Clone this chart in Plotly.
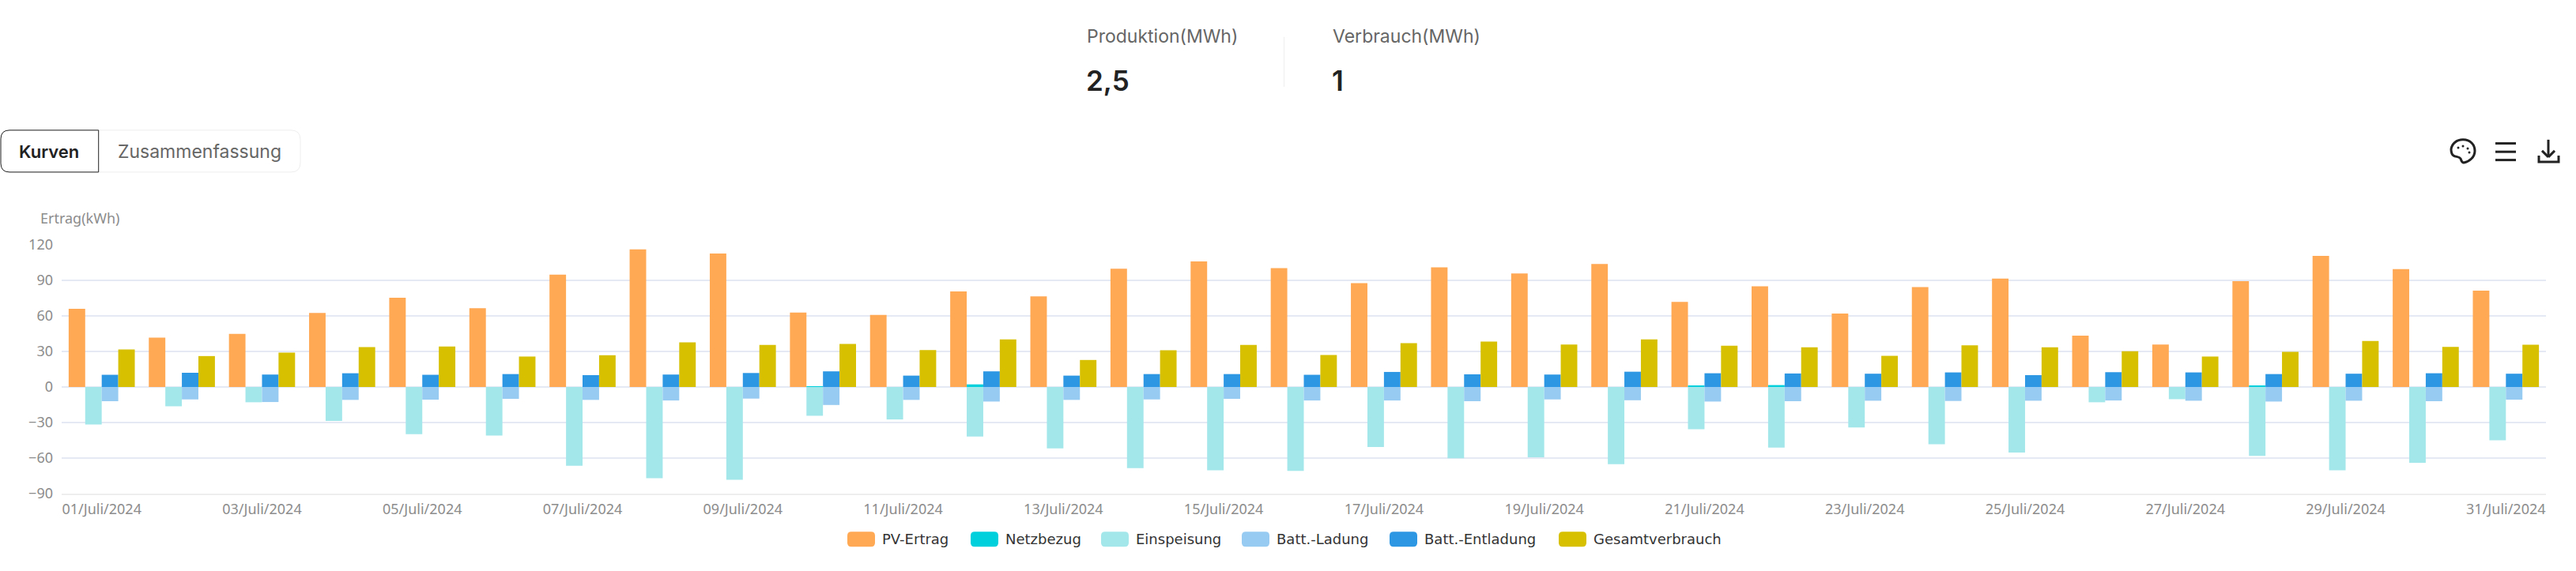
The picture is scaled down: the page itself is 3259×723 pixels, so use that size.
import plotly.graph_objects as go

# Tage
days = [f"{d:02d}/Juli/2024" for d in range(1, 32)]
tick_labels = days[::2]

# Werte (kWh)
pv_ertrag = [66, 41.7, 44.8, 62.5, 75.4, 66.5, 94.8, 116.2, 112.6, 62.9, 60.9, 80.7, 76.5, 99.9, 106, 100.4,
             87.7, 101, 95.9, 103.9, 71.8, 85, 62, 84.3, 91.5, 43.3, 35.9, 89.4, 110.6, 99.5, 81.4]
netzbezug = [0, 0, 0, 0, 0, 0, 0, 0, 0, 0.5, 0, 2.2, 0, 0, 0, 0,
             0, 0, 0, 0, 0.7, 1.6, 0, 0, 0, 0, 0, 0.7, 0, 0, 0]
einspeisung = [-31.7, -16.3, -12.9, -28.6, -39.9, -41, -66.5, -77, -78.3, -24.3, -27.4, -41.9, -51.8, -68.5, -70.3, -70.9,
               -50.6, -60.2, -59.3, -65.1, -35.7, -51.1, -34.1, -48.4, -55.3, -12.9, -10.3, -58.2, -70.3, -64, -45]
ladung = [-12, -10.5, -12.7, -10.9, -10.7, -10, -10.9, -11.4, -9.8, -15.2, -10.9, -12.3, -10.9, -10.5, -10, -11.4,
          -11.4, -12, -10.5, -11.2, -12.3, -12, -11.6, -11.8, -11.6, -11.4, -11.6, -12.3, -11.6, -12, -10.7]
entladung = [10.3, 12, 10.5, 11.6, 10.3, 10.9, 10, 10.5, 11.8, 13.2, 9.6, 13.2, 9.6, 10.9, 10.9, 10.3,
             12.7, 10.7, 10.5, 12.9, 11.6, 11.4, 11.2, 12.3, 10, 12.5, 12.3, 10.9, 11.2, 11.6, 11.2]
gesamt = [31.7, 26.1, 29, 33.7, 34.1, 25.7, 26.8, 37.7, 35.5, 36.4, 31.2, 40.2, 22.8, 31, 35.5, 27,
          37, 38.4, 35.9, 40.2, 34.8, 33.5, 26.3, 35.2, 33.5, 30.1, 25.7, 29.7, 38.8, 33.9, 35.7]

colors = ["#FFA955", "#00CFDC", "#A3E7EB", "#97CBF1", "#2E97E3", "#D6C000"]
names = ["PV-Ertrag", "Netzbezug", "Einspeisung", "Batt.-Ladung", "Batt.-Entladung", "Gesamtverbrauch"]
series = [pv_ertrag, netzbezug, einspeisung, ladung, entladung, gesamt]
groups = ["a", "b", "b", "c", "c", "d"]

W, H = 3259, 723
L, R, T, B = 78, 3221, 310, 624.7


def px(x):
    return (x - L) / (R - L)


def py(y):
    return (B - y) / (B - T)


def text(x, y, s, size, color, anchor="left", font="Inter", weight=400):
    fig.add_annotation(xref="paper", yref="paper", x=px(x), y=py(y), text=s, showarrow=False,
                       xanchor=anchor, yanchor="middle",
                       font=dict(size=size, color=color, family=font, weight=weight))


def shape_line(x0, y0, x1, y1, color="#222222", width=3):
    fig.add_shape(type="line", xref="paper", yref="paper", x0=px(x0), y0=py(y0), x1=px(x1), y1=py(y1),
                  line=dict(color=color, width=width))


def shape_path(cmds, line=None, width=1, fill="rgba(0,0,0,0)"):
    # cmds: Liste aus (Befehl, x, y, x, y, ...) in Pixeln
    parts = []
    for c in cmds:
        pts = c[1:]
        coords = " ".join(f"{px(pts[i])},{py(pts[i + 1])}" for i in range(0, len(pts), 2))
        parts.append(f"{c[0]}{coords}")
    fig.add_shape(type="path", xref="paper", yref="paper", path=" ".join(parts) + (" Z" if fill != "rgba(0,0,0,0)" else ""),
                  fillcolor=fill, line=dict(color=line if line else "rgba(0,0,0,0)", width=width))


def round_rect(x0, y0, x1, y1, r, line=None, width=1, fill="rgba(0,0,0,0)"):
    shape_path([("M", x0 + r, y0), ("L", x1 - r, y0), ("Q", x1, y0, x1, y0 + r), ("L", x1, y1 - r),
                ("Q", x1, y1, x1 - r, y1), ("L", x0 + r, y1), ("Q", x0, y1, x0, y1 - r), ("L", x0, y0 + r),
                ("Q", x0, y0, x0 + r, y0)], line=line, width=width, fill=fill)


fig = go.Figure()

for name, vals, col, grp in zip(names, series, colors, groups):
    fig.add_trace(go.Bar(x=days, y=vals, name=name, marker_color=col, marker_line_width=0, offsetgroup=grp))

fig.update_layout(
    width=W, height=H,
    barmode="group", bargap=0.175, bargroupgap=0,
    showlegend=False,
    template="plotly_white",
    plot_bgcolor="white", paper_bgcolor="white",
    margin=dict(l=L, r=W - R, t=T, b=H - B),
    font=dict(family="Noto Sans", color="#8C8C8C"),
)
fig.update_xaxes(type="category", categoryorder="array", categoryarray=days,
                 tickmode="array", tickvals=tick_labels, ticktext=tick_labels,
                 tickfont=dict(size=18, color="#8C8C8C", family="Noto Sans"),
                 showgrid=False, zeroline=False, ticks="", ticklabelstandoff=2,
                 showline=True, linecolor="#EEEEEE", linewidth=2)
fig.update_yaxes(range=[-90, 120], tickmode="array", tickvals=[-90, -60, -30, 0, 30, 60, 90, 120],
                 tickfont=dict(size=18, color="#8C8C8C", family="Noto Sans"),
                 gridcolor="#E4E9F4", gridwidth=1.5, zeroline=True, zerolinecolor="#E4E9F4", zerolinewidth=1.5,
                 showline=False, ticks="", ticklabelstandoff=10)

# Kopfzeile
text(1373, 46, "Produktion(MWh)", 23, "#666666")
text(1684, 46, "Verbrauch(MWh)", 23, "#666666")
text(1372, 102, "2,5", 35, "#222222", weight=600)
text(1683, 102, "1", 35, "#222222", weight=600)
shape_line(1624.5, 47, 1624.5, 110, color="#EEEEEE", width=1)

# Tabs
round_rect(1, 165, 380, 218, 12, line="#EEEEEE")
shape_path([("M", 124.7, 165), ("L", 12, 165), ("Q", 1, 165, 1, 176), ("L", 1, 207), ("Q", 1, 218, 12, 218),
            ("L", 124.7, 218), ("L", 124.7, 165)], line="#222222", width=1)
text(62, 192, "Kurven", 22, "#222222", anchor="center", weight=600)
text(252.5, 192, "Zusammenfassung", 23, "#666666", anchor="center")
text(49, 276, "Ertrag(kWh)", 18, "#8C8C8C", font="Noto Sans")

# Icons rechts oben
shape_path([("M", 3116, 177), ("C", 3126, 177, 3131, 184, 3131, 191), ("C", 3131, 199, 3124, 205, 3117, 206),
            ("C", 3114, 206, 3114, 203, 3113, 201), ("C", 3111, 198, 3107, 199, 3104, 197),
            ("C", 3101, 195, 3101, 191, 3101, 189), ("C", 3102, 182, 3108, 177, 3116, 177)],
           line="#222222", width=3)
for a, b in [(3110, 187), (3116, 185), (3122, 188), (3124, 193)]:
    fig.add_shape(type="circle", xref="paper", yref="paper", x0=px(a - 1.5), x1=px(a + 1.5),
                  y0=py(b - 1.5), y1=py(b + 1.5), fillcolor="#222222", line_width=0)
for y in [181.7, 192.3, 202.7]:
    shape_line(3157, y, 3183, y)
shape_line(3224, 177, 3224, 199)
shape_line(3216, 191, 3224, 199)
shape_line(3232, 191, 3224, 199)
shape_path([("M", 3212, 197), ("L", 3212, 205), ("L", 3237, 205), ("L", 3237, 197)], line="#222222", width=3)

# Legende von Hand, die Plotly-Symbole sind zu klein
legend_x = [1072, 1228, 1393, 1571, 1758, 1972]
for x, name, col in zip(legend_x, names, colors):
    round_rect(x, 673, x + 35, 692, 5, fill=col)
    text(x + 42, 682, name, 18, "#333333", font="DejaVu Sans")

fig.write_html("out.html", config=dict(displayModeBar=False), post_script="document.body.style.margin='0';")
